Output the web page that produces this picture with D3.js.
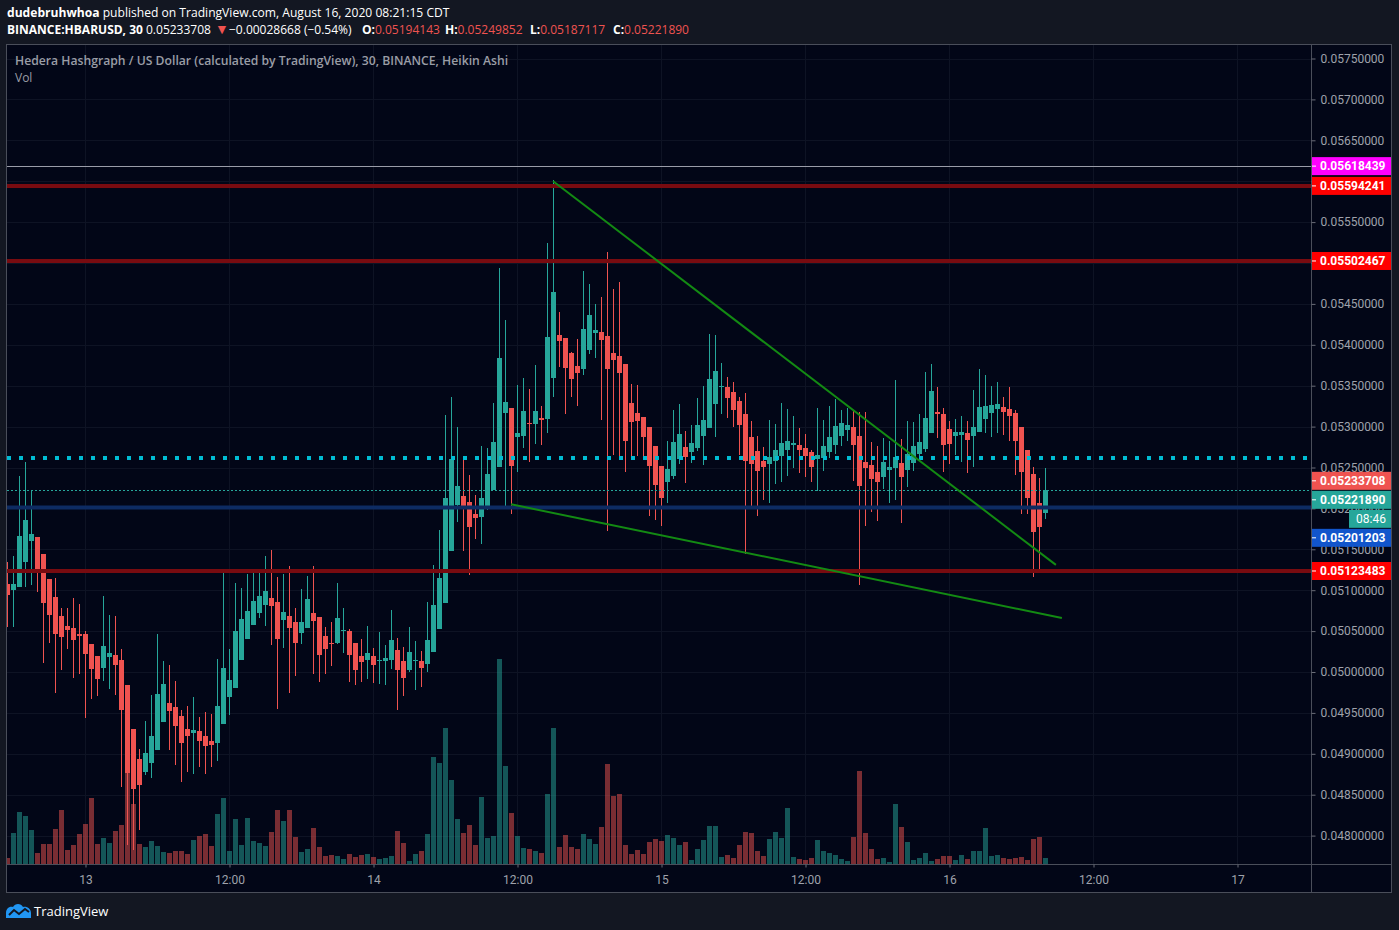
<!DOCTYPE html>
<html><head><meta charset="utf-8">
<script src="https://cdn.jsdelivr.net/npm/d3@7"></script>
<style>
html,body{margin:0;padding:0;background:#131722;}
svg{display:block;font-family:"Open Sans",Roboto,sans-serif;}
</style></head><body>
<svg id="c" width="1399" height="930"></svg>
<script>
// ---------------- DATA ----------------
const startTime = new Date(2020, 7, 12, 17, 30); // first 30-min bar
const opens = [0.05108,0.05100,0.05104,0.05134,0.05160,0.05165,0.05144,0.05114,0.05092,0.05069,
0.05056,0.05054,0.05047,0.05046,0.05034,0.05019,0.05005,0.05018,0.05021,0.05015,
0.04984,0.04930,0.04894,0.04878,0.04889,0.04905,0.04939,0.04962,0.04957,0.04946,
0.04930,0.04926,0.04928,0.04922,0.04916,0.04913,0.04936,0.04970,0.04980,0.05015,
0.05040,0.05057,0.05072,0.05082,0.05090,0.05086,0.05063,0.05068,0.05061,0.05048,
0.05054,0.05072,0.05067,0.05044,0.05036,0.05035,0.05050,0.05050,0.05036,0.05019,
0.05015,0.05019,0.05013,0.05014,0.05015,0.05027,0.05014,0.05003,0.05013,0.05014,
0.05010,0.05024,0.05053,0.05084,0.05148,0.05204,0.05215,0.05208,0.05193,0.05190,
0.05202,0.05222,0.05251,0.05317,0.05323,0.05287,0.05289,0.05304,0.05303,0.05311,
0.05309,0.05360,0.05412,0.05408,0.05390,0.05374,0.05370,0.05394,0.05415,0.05416,
0.05411,0.05390,0.05386,0.05376,0.05329,0.05317,0.05312,0.05300,0.05276,0.05252,
0.05232,0.05240,0.05260,0.05275,0.05269,0.05274,0.05288,0.05298,0.05328,0.05348,
0.05349,0.05342,0.05331,0.05316,0.05287,0.05270,0.05258,0.05254,0.05258,0.05264,
0.05272,0.05277,0.05278,0.05274,0.05269,0.05260,0.05262,0.05269,0.05278,0.05289,
0.05296,0.05299,0.05288,0.05257,0.05253,0.05244,0.05238,0.05247,0.05249,0.05256,
0.05247,0.05256,0.05266,0.05273,0.05292,0.05318,0.05316,0.05297,0.05288,0.05290,
0.05292,0.05288,0.05294,0.05309,0.05317,0.05321,0.05324,0.05321,0.05317,0.05300,
0.05272,0.05242,0.05207,0.05194143];
const highs = [0.05134,0.05142,0.05240,0.05257,0.05222,0.05165,0.05144,0.05114,0.05115,0.05078,
0.05078,0.05090,0.05083,0.05050,0.05034,0.05019,0.05093,0.05070,0.05068,0.05028,
0.04984,0.04930,0.04906,0.04940,0.04972,0.05046,0.05013,0.05009,0.04989,0.04954,
0.04958,0.04969,0.04945,0.04951,0.04949,0.05016,0.05122,0.05028,0.05109,0.05103,
0.05120,0.05126,0.05126,0.05142,0.05149,0.05116,0.05120,0.05130,0.05078,0.05101,
0.05117,0.05130,0.05067,0.05055,0.05061,0.05109,0.05078,0.05052,0.05036,0.05040,
0.05056,0.05029,0.05049,0.05033,0.05076,0.05041,0.05030,0.05055,0.05038,0.05026,
0.05086,0.05131,0.05174,0.05314,0.05336,0.05299,0.05259,0.05241,0.05216,0.05276,
0.05274,0.05329,0.05494,0.05430,0.05323,0.05351,0.05359,0.05346,0.05375,0.05325,
0.05524,0.05601,0.05440,0.05408,0.05391,0.05407,0.05490,0.05474,0.05450,0.05458,
0.05513,0.05468,0.05477,0.05376,0.05352,0.05351,0.05312,0.05300,0.05276,0.05252,
0.05282,0.05320,0.05328,0.05295,0.05302,0.05335,0.05350,0.05413,0.05412,0.05378,
0.05361,0.05354,0.05336,0.05341,0.05307,0.05288,0.05275,0.05308,0.05303,0.05329,
0.05321,0.05313,0.05298,0.05291,0.05271,0.05323,0.05308,0.05325,0.05334,0.05320,
0.05323,0.05320,0.05318,0.05318,0.05281,0.05276,0.05286,0.05282,0.05357,0.05285,
0.05307,0.05306,0.05315,0.05367,0.05377,0.05348,0.05323,0.05307,0.05309,0.05313,
0.05307,0.05345,0.05370,0.05363,0.05350,0.05354,0.05336,0.05348,0.05320,0.05300,
0.05272,0.05251,0.05237,0.05249852];
const lows = [0.05055,0.05055,0.05104,0.05104,0.05106,0.05098,0.05011,0.05035,0.04974,0.05002,
0.05028,0.04993,0.04998,0.04944,0.04967,0.04971,0.04989,0.04979,0.04972,0.04859,
0.04788,0.04782,0.04807,0.04874,0.04870,0.04905,0.04939,0.04905,0.04886,0.04865,
0.04878,0.04875,0.04884,0.04875,0.04884,0.04891,0.04936,0.04947,0.04980,0.05015,
0.05040,0.05057,0.05066,0.05056,0.05033,0.04955,0.05029,0.04974,0.04995,0.05034,
0.05054,0.04998,0.04988,0.04998,0.05007,0.05034,0.05023,0.04988,0.04984,0.04988,
0.04991,0.04986,0.04985,0.04984,0.05004,0.04954,0.04971,0.05000,0.04978,0.04982,
0.05000,0.05024,0.05053,0.05084,0.05148,0.05183,0.05148,0.05119,0.05163,0.05156,
0.05198,0.05222,0.05251,0.05203,0.05193,0.05244,0.05274,0.05257,0.05279,0.05277,
0.05292,0.05336,0.05373,0.05315,0.05336,0.05325,0.05363,0.05389,0.05384,0.05308,
0.05172,0.05265,0.05263,0.05244,0.05264,0.05264,0.05259,0.05191,0.05186,0.05178,
0.05207,0.05236,0.05254,0.05231,0.05255,0.05270,0.05253,0.05298,0.05287,0.05315,
0.05310,0.05300,0.05265,0.05144,0.05203,0.05191,0.05210,0.05207,0.05230,0.05232,
0.05240,0.05249,0.05243,0.05238,0.05232,0.05221,0.05246,0.05262,0.05266,0.05276,
0.05282,0.05233,0.05106,0.05179,0.05196,0.05185,0.05224,0.05207,0.05210,0.05182,
0.05226,0.05246,0.05262,0.05269,0.05292,0.05286,0.05244,0.05254,0.05265,0.05257,
0.05243,0.05251,0.05294,0.05292,0.05287,0.05292,0.05290,0.05282,0.05241,0.05193,
0.05193,0.05116,0.05125,0.05187117];
const closes = [0.05094,0.05108,0.05166,0.05186,0.05169,0.05123,0.05084,0.05070,0.05046,0.05043,
0.05051,0.05039,0.05044,0.05022,0.05004,0.04991,0.05032,0.05023,0.05008,0.04953,
0.04876,0.04857,0.04862,0.04901,0.04922,0.04973,0.04985,0.04952,0.04934,0.04913,
0.04922,0.04929,0.04916,0.04910,0.04911,0.04958,0.05005,0.04990,0.05050,0.05065,
0.05075,0.05087,0.05093,0.05099,0.05081,0.05040,0.05073,0.05054,0.05035,0.05061,
0.05089,0.05062,0.05021,0.05028,0.05035,0.05066,0.05051,0.05021,0.05002,0.05012,
0.05023,0.05008,0.05015,0.05017,0.05039,0.05002,0.04993,0.05024,0.05015,0.05005,
0.05039,0.05082,0.05115,0.05213,0.05260,0.05227,0.05202,0.05177,0.05188,0.05213,
0.05242,0.05281,0.05384,0.05330,0.05252,0.05292,0.05319,0.05303,0.05319,0.05308,
0.05410,0.05465,0.05405,0.05372,0.05358,0.05365,0.05419,0.05436,0.05418,0.05406,
0.05370,0.05381,0.05365,0.05282,0.05306,0.05307,0.05287,0.05252,0.05229,0.05213,
0.05248,0.05281,0.05291,0.05263,0.05280,0.05302,0.05308,0.05358,0.05368,0.05350,
0.05335,0.05320,0.05302,0.05258,0.05254,0.05246,0.05251,0.05263,0.05271,0.05280,
0.05282,0.05280,0.05271,0.05264,0.05251,0.05265,0.05276,0.05287,0.05301,0.05304,
0.05302,0.05277,0.05227,0.05249,0.05236,0.05232,0.05257,0.05251,0.05263,0.05238,
0.05266,0.05276,0.05281,0.05311,0.05344,0.05315,0.05277,0.05279,0.05293,0.05294,
0.05284,0.05300,0.05324,0.05325,0.05326,0.05328,0.05318,0.05313,0.05282,0.05244,
0.05213,0.05171,0.05177,0.05221890];
const volumes = [6,31,52,48,34,11,20,20,35,54,
14,19,30,40,66,20,26,21,33,39,
91,60,20,17,23,18,12,11,13,13,
10,24,28,30,18,50,66,13,45,19,
46,23,21,18,32,54,43,54,27,12,
15,36,17,8,9,8,5,10,7,9,
10,7,5,6,8,33,21,3,10,13,
30,107,101,136,84,45,31,39,19,67,
26,28,205,98,51,28,16,15,13,11,
70,136,17,29,17,15,30,25,20,37,
100,68,70,19,10,14,10,22,25,23,
29,26,19,22,4,15,24,38,38,7,
9,6,19,32,31,13,8,25,32,26,
56,7,5,4,6,24,13,11,9,5,
3,27,93,31,15,5,6,2,60,37,
22,4,6,11,3,5,8,8,4,9,
5,13,13,36,8,9,6,5,6,7,
4,25,27,6];

const priceTicks = [0.0480,0.0485,0.0490,0.0495,0.0500,0.0505,0.0510,0.0515,0.0520,0.0525,
  0.0530,0.0535,0.0540,0.0545,0.0550,0.0555,0.0560,0.0565,0.0570,0.0575];
const timeTicks = [new Date(2020,7,13,0,0), new Date(2020,7,13,12,0), new Date(2020,7,14,0,0),
  new Date(2020,7,14,12,0), new Date(2020,7,15,0,0), new Date(2020,7,15,12,0),
  new Date(2020,7,16,0,0), new Date(2020,7,16,12,0), new Date(2020,7,17,0,0)];
const timeTickLabels = ["13","12:00","14","12:00","15","12:00","16","12:00","17"];

const redLevels = [0.05594241, 0.05502467, 0.05123483];
const blueLevel = 0.05201203;
const markerLevel = 0.05618439;
const dottedLevel = 0.0526163;
const closeLevel = 0.05221890;
const trendLines = [
  {t0: new Date(2020,7,14,14,58), p0: 0.05600, t1: new Date(2020,7,16,8,52), p1: 0.05131},
  {t0: new Date(2020,7,14,11,28), p0: 0.05205, t1: new Date(2020,7,16,9,22), p1: 0.05066}
];
const priceLabels = [
  {price: 0.05618439, bg: "#ff00ff"},
  {price: 0.05594241, bg: "#ff0000"},
  {price: 0.05502467, bg: "#ff0000"},
  {price: 0.05233708, bg: "#ef5350"},
  {price: 0.05221890, bg: "#26a69a", countdown: "08:46"},
  {price: 0.05201203, bg: "#1155cc"},
  {price: 0.05123483, bg: "#ff0000"}
];
const ohlcLabels = ["O:", "H:", "L:", "C:"];
const ohlcValues = ["0.05194143", "0.05249852", "0.05187117", "0.05221890"];

// ---------------- LAYOUT ----------------
const L = 7, T = 44, R = 1311, B = 864, AX = 1392, FB = 893;
const step = 30 * 60 * 1000;
const UP = "#26a69a", DOWN = "#ef5350";
const svg = d3.select("#c");
const times = opens.map((_, i) => new Date(startTime.getTime() + i * step));

const x = d3.scaleTime()
  .domain([new Date(startTime.getTime() - step / 12), new Date(startTime.getTime() + 217.25 * step)])
  .range([L, R]);
const y = d3.scaleLinear().domain([0.048, 0.0575]).range([835.6, 58.5]);
const yv = d3.scaleLinear().domain([0, d3.max(volumes)]).range([B, 659]);

// background
svg.append("rect").attr("width", 1399).attr("height", 930).attr("fill", "#131722");
svg.append("rect").attr("x", L).attr("y", T).attr("width", AX - L).attr("height", FB - T).attr("fill", "#020617");

svg.append("defs").append("clipPath").attr("id", "plot")
  .append("rect").attr("x", L).attr("y", T).attr("width", R - L).attr("height", B - T);

const plot = svg.append("g").attr("clip-path", "url(#plot)").attr("shape-rendering", "crispEdges");

// grid
plot.selectAll("line.hg").data(priceTicks).join("line")
  .attr("x1", L).attr("x2", R)
  .attr("y1", d => Math.round(y(d)) + 0.5).attr("y2", d => Math.round(y(d)) + 0.5)
  .attr("stroke", "#0e1324");
plot.selectAll("line.vg").data(timeTicks).join("line")
  .attr("y1", T).attr("y2", B)
  .attr("x1", d => Math.floor(x(d)) + 0.5).attr("x2", d => Math.floor(x(d)) + 0.5)
  .attr("stroke", "#0e1324");

// volume
plot.selectAll("rect.vol").data(volumes).join("rect")
  .attr("x", (d, i) => x(times[i]) - 2.5).attr("width", 5)
  .attr("y", d => yv(d)).attr("height", d => B - yv(d))
  .attr("fill", (d, i) => closes[i] >= opens[i] ? "rgba(38,166,154,0.5)" : "rgba(239,83,80,0.5)");

// candles
const cg = plot.append("g");
cg.selectAll("rect.wick").data(times).join("rect")
  .attr("x", d => Math.floor(x(d))).attr("width", 1)
  .attr("y", (d, i) => y(highs[i])).attr("height", (d, i) => Math.max(1, y(lows[i]) - y(highs[i])))
  .attr("fill", (d, i) => closes[i] >= opens[i] ? UP : DOWN);
cg.selectAll("rect.body").data(times).join("rect")
  .attr("x", d => x(d) - 2.5).attr("width", 5)
  .attr("y", (d, i) => y(Math.max(opens[i], closes[i])))
  .attr("height", (d, i) => Math.max(1, Math.abs(y(opens[i]) - y(closes[i]))))
  .attr("fill", (d, i) => closes[i] >= opens[i] ? UP : DOWN);

// drawings
const dg = svg.append("g").attr("clip-path", "url(#plot)");
dg.selectAll("line.red").data(redLevels).join("line")
  .attr("x1", L).attr("x2", R).attr("y1", d => y(d)).attr("y2", d => y(d))
  .attr("stroke", "#780b10").attr("stroke-width", 4);
dg.append("line").attr("x1", L).attr("x2", R).attr("y1", y(blueLevel)).attr("y2", y(blueLevel))
  .attr("stroke", "#0d2b62").attr("stroke-width", 4);
dg.append("line").attr("x1", L).attr("x2", R).attr("y1", Math.round(y(markerLevel)) + 0.5).attr("y2", Math.round(y(markerLevel)) + 0.5)
  .attr("stroke", "#9a9ca8").attr("stroke-width", 1);
dg.append("line").attr("x1", L).attr("x2", R - 4).attr("y1", y(dottedLevel)).attr("y2", y(dottedLevel))
  .attr("stroke", "#00bcd4").attr("stroke-width", 4).attr("stroke-dasharray", "4,8");
dg.append("line").attr("x1", L).attr("x2", R).attr("y1", Math.round(y(closeLevel)) + 0.5).attr("y2", Math.round(y(closeLevel)) + 0.5)
  .attr("stroke", UP).attr("stroke-width", 1).attr("stroke-dasharray", "2,2");
dg.selectAll("line.trend").data(trendLines).join("line")
  .attr("x1", d => x(d.t0)).attr("y1", d => y(d.p0))
  .attr("x2", d => x(d.t1)).attr("y2", d => y(d.p1))
  .attr("stroke", "#138a13").attr("stroke-width", 2);

// frame
const fr = svg.append("g").attr("stroke", "#4a4e5a").attr("fill", "none").attr("shape-rendering", "crispEdges");
fr.append("rect").attr("x", L - 0.5).attr("y", T + 0.5).attr("width", AX - L).attr("height", FB - T - 1);
fr.append("line").attr("x1", R + 0.5).attr("x2", R + 0.5).attr("y1", T).attr("y2", FB);
fr.append("line").attr("x1", L).attr("x2", AX).attr("y1", B + 0.5).attr("y2", B + 0.5);

// axes
const ya = svg.append("g").attr("transform", `translate(${R + 0.5},0)`)
  .call(d3.axisRight(y).tickValues(priceTicks).tickFormat(d3.format(".8f")).tickSize(4).tickPadding(5));
ya.select(".domain").remove();
ya.selectAll("line").attr("stroke", "#6a6d78");
ya.selectAll("text").attr("fill", "#9fa2ab").attr("font-size", 12).attr("font-family", "Roboto, sans-serif");

const xa = svg.append("g").attr("transform", `translate(0,${B + 0.5})`)
  .call(d3.axisBottom(x).tickValues(timeTicks).tickFormat((d, i) => timeTickLabels[i]).tickSize(3).tickPadding(8));
xa.select(".domain").remove();
xa.selectAll("line").attr("stroke", "#6a6d78");
xa.selectAll("text").attr("fill", "#9fa2ab").attr("font-size", 12).attr("font-family", "Roboto, sans-serif");

// price label boxes (stacked like the reference to avoid overlaps)
const BH = 18;
let prevBottom = -1e9;
const boxes = priceLabels.map(d => ({...d, ny: y(d.price)})).sort((a, b) => a.ny - b.ny);
boxes.forEach(b => {
  const cy = Math.max(b.ny, prevBottom + BH / 2 + 1);
  b.cy = cy;
  prevBottom = cy + BH / 2 + (b.countdown ? BH + 1 : 0);
});
const lb = svg.append("g").attr("font-family", "Roboto, sans-serif").attr("font-size", 12).attr("font-weight", "bold");
boxes.forEach(b => {
  lb.append("rect").attr("x", R + 1).attr("y", b.cy - BH / 2).attr("width", AX - R - 2).attr("height", BH).attr("fill", b.bg);
  lb.append("line").attr("x1", R + 1).attr("x2", R + 5).attr("y1", b.cy).attr("y2", b.cy).attr("stroke", "#fff");
  lb.append("text").attr("x", R + 9).attr("y", b.cy).attr("dy", "0.35em").attr("fill", "#fff").text(d3.format(".8f")(b.price));
  if (b.countdown) {
    lb.append("rect").attr("x", R + 38).attr("y", b.cy + BH / 2 + 1).attr("width", AX - R - 39).attr("height", BH).attr("fill", b.bg);
    lb.append("text").attr("x", AX - 6).attr("y", b.cy + BH + 1).attr("dy", "0.35em").attr("text-anchor", "end")
      .attr("fill", "#fff").attr("font-weight", "normal").text(b.countdown);
  }
});

// header text
const h1 = svg.append("text").attr("x", 7).attr("y", 17).attr("font-size", 12.1).attr("fill", "#ffffff");
h1.append("tspan").attr("font-weight", "bold").text("dudebruhwhoa");
h1.append("tspan").text(" published on TradingView.com, August 16, 2020 08:21:15 CDT");

const h2 = svg.append("g").attr("font-size", 12).attr("fill", "#ffffff");
h2.append("text").attr("x", 7).attr("y", 34).attr("font-weight", "bold").text("BINANCE:HBARUSD, 30");
h2.append("text").attr("x", 146).attr("y", 34).text("0.05233708");
h2.append("text").attr("x", 215).attr("y", 34).attr("font-size", 14).attr("fill", DOWN).text("▼");
h2.append("text").attr("x", 229).attr("y", 34).text("−0.00028668 (−0.54%)");
const ohlcX = [362, 445, 530, 613];
ohlcLabels.forEach((k, i) => {
  const t = h2.append("text").attr("x", ohlcX[i]).attr("y", 34);
  t.append("tspan").attr("font-weight", "bold").text(k);
  t.append("tspan").attr("fill", DOWN).text(ohlcValues[i]);
});

svg.append("text").attr("x", 15).attr("y", 65).attr("font-size", 12.2).attr("font-weight", 600).attr("fill", "#9a9da6")
  .text("Hedera Hashgraph / US Dollar (calculated by TradingView), 30, BINANCE, Heikin Ashi");
svg.append("text").attr("x", 15).attr("y", 82).attr("font-size", 12).attr("fill", "#9a9da6").text("Vol");

// footer logo
const lg = svg.append("g");
lg.append("path").attr("d", "M6,918 L6,913 C6,909 9,906 13,907 C15,903 21,903 23,907 C27,906 31,909 31,913 L31,918 Z").attr("fill", "#2196f3");
lg.append("path").attr("d", "M9,915 L14,910 L19,914 L25,909 L29,912").attr("fill", "none").attr("stroke", "#131722").attr("stroke-width", 2);
svg.append("text").attr("x", 34).attr("y", 916).attr("font-size", 13).attr("fill", "#ffffff").text("TradingView");
</script>
</body></html>
